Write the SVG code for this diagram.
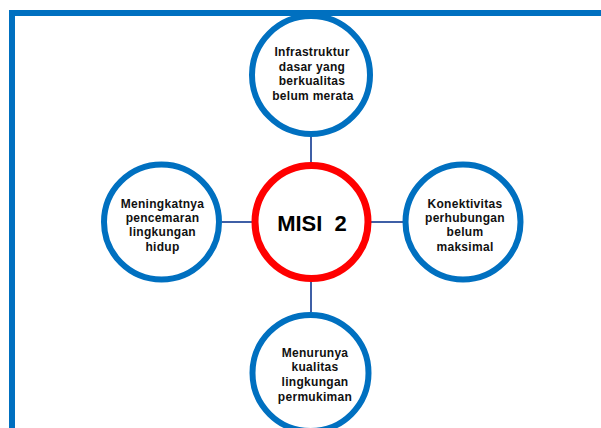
<svg xmlns="http://www.w3.org/2000/svg" width="601" height="428" viewBox="0 0 601 428">
  <style>
    .node { fill: #FFFFFF; stroke: #0070C0; stroke-width: 6; }
    .center { fill: #FFFFFF; stroke: #FF0000; stroke-width: 7; }
    .conn { stroke: #3F5FA6; stroke-width: 2; fill: none; }
    .lbl { font-family: "Liberation Sans", Arial, sans-serif; font-weight: bold; font-size: 12px; letter-spacing: 0.3px; fill: #111111; text-anchor: middle; }
    .title { font-family: "Liberation Sans", Arial, sans-serif; font-weight: bold; font-size: 22px; fill: #000000; text-anchor: middle; }
  </style>
  <rect x="0" y="0" width="601" height="428" fill="#FFFFFF"/>
  <g id="connectors">
    <line class="conn" x1="311" y1="137" x2="311" y2="163"/>
    <line class="conn" x1="311" y1="281" x2="311" y2="312"/>
    <line class="conn" x1="222" y1="222" x2="253" y2="222"/>
    <line class="conn" x1="371" y1="222" x2="403" y2="222"/>
  </g>
  <g id="top">
    <circle class="node" cx="311" cy="75" r="59"/>
    <text class="lbl" x="312" y="56">Infrastruktur</text>
    <text class="lbl" x="312" y="71">dasar yang</text>
    <text class="lbl" x="312" y="85">berkualitas</text>
    <text class="lbl" x="313" y="100">belum merata</text>
  </g>
  <rect id="frame" x="12" y="13" width="700" height="500" fill="none" stroke="#0070C0" stroke-width="6"/>
  <g id="left">
    <circle class="node" cx="161.5" cy="222" r="57.5"/>
    <text class="lbl" x="162.5" y="207.5">Meningkatnya</text>
    <text class="lbl" x="162.5" y="222">pencemaran</text>
    <text class="lbl" x="162.5" y="236">lingkungan</text>
    <text class="lbl" x="162.5" y="250.5">hidup</text>
  </g>
  <g id="right">
    <circle class="node" cx="463" cy="222" r="57.5"/>
    <text class="lbl" x="465" y="207.5">Konektivitas</text>
    <text class="lbl" x="465" y="222">perhubungan</text>
    <text class="lbl" x="465" y="236">belum</text>
    <text class="lbl" x="465" y="250.5">maksimal</text>
  </g>
  <g id="bottom">
    <circle class="node" cx="310.5" cy="373" r="58"/>
    <text class="lbl" x="315" y="357">Menurunya</text>
    <text class="lbl" x="315" y="371">kualitas</text>
    <text class="lbl" x="315" y="386">lingkungan</text>
    <text class="lbl" x="315" y="401">permukiman</text>
  </g>
  <g id="center">
    <circle class="center" cx="311.5" cy="222" r="56.5"/>
    <text class="title" x="312" y="231">MISI&#160;&#160;2</text>
  </g>
</svg>
